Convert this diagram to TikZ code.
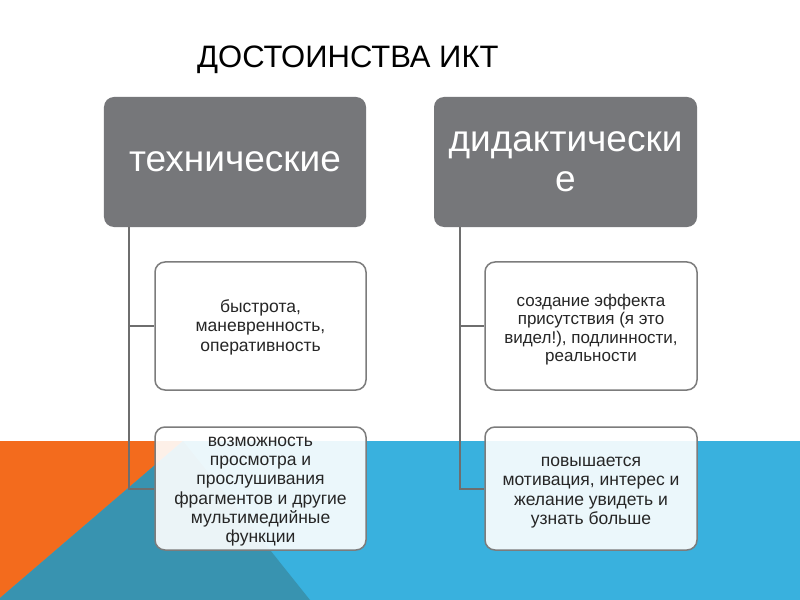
\documentclass[tikz,border=0pt]{standalone}
\usepackage{fontspec}
\setmainfont{Liberation Sans}
\usetikzlibrary{calc}
\definecolor{bgblue}{HTML}{39B1DE}
\definecolor{bgteal}{HTML}{3893B0}
\definecolor{bgorange}{HTML}{F36B1D}
\definecolor{headgray}{HTML}{76777A}
\definecolor{edgegray}{HTML}{7C7C7C}
\definecolor{linegray}{HTML}{6E6E6E}
\tikzset{
  headbox/.style={draw=none, fill=headgray, rounded corners=10bp, inner sep=0pt,
    text=white, align=center, font=\fontsize{37bp}{40bp}\selectfont},
  itembox/.style={draw=edgegray, line width=1.5bp, fill=white, fill opacity=0.9,
    rounded corners=10bp, inner sep=0pt,
    minimum width=211bp, minimum height=128bp},
  itemtext/.style={inner sep=0pt, align=center, text=black!85,
    font=\fontsize{17.5bp}{19.5bp}\selectfont},
  conn/.style={draw=linegray, line width=2bp},
}
\begin{document}
\begin{tikzpicture}[x=1bp,y=-1bp]
\useasboundingbox (0,0) rectangle (800,600);
\fill[white] (0,0) rectangle (800,600);
% background shapes
\fill[bgblue] (0,441) rectangle (800,600);
\fill[bgorange] (0,441) -- (183,441) -- (0,598) -- cycle;
\fill[bgteal] (183,441) -- (310,600) -- (0,600) -- (0,598) -- cycle;
% title
\node[anchor=base west, inner sep=0pt, font=\fontsize{31bp}{36bp}\selectfont] (title) at (197,68) {ДОСТОИНСТВА ИКТ};
% heads
\node[headbox, minimum width=262bp, minimum height=130bp] (L) at (235,162) {технические};
\node[headbox, minimum width=263bp, minimum height=130bp] (R) at (565.5,162) {дидактически\\е};
% item boxes
\node[itembox] (L1) at (260.5,326) {};
\node[itembox, minimum height=123bp] (L2) at (260.5,488.5) {};
\node[itembox, minimum width=212bp] (R1) at (591,326) {};
\node[itembox, minimum width=212bp, minimum height=123bp] (R2) at (591,488.5) {};
% item texts
\node[itemtext] (L1t) at ($(L1.center)+(0,1)$) {быстрота,\\маневренность,\\оперативность};
\node[itemtext, font=\fontsize{17.5bp}{19.3bp}\selectfont] (L2t) at ($(L2.center)+(0,3)$) {возможность\\просмотра и\\прослушивания\\фрагментов и другие\\мультимедийные\\функции};
\node[itemtext, font=\fontsize{17bp}{18.3bp}\selectfont] (R1t) at ($(R1.center)+(0,3.5)$) {создание эффекта\\присутствия (я это\\видел!), подлинности,\\реальности};
\node[itemtext, font=\fontsize{17.5bp}{19.3bp}\selectfont] (R2t) at ($(R2.center)+(0,4)$) {повышается\\мотивация, интерес и\\желание увидеть и\\узнать больше};
% connectors
\coordinate (lt) at ($(L.south west)+(25,0)$);
\coordinate (rt) at ($(R.south west)+(26,0)$);
\draw[conn] (lt) |- (L1.west);
\draw[conn] (lt) |- (L2.west);
\draw[conn] (rt) |- (R1.west);
\draw[conn] (rt) |- (R2.west);
\end{tikzpicture}
\end{document}
